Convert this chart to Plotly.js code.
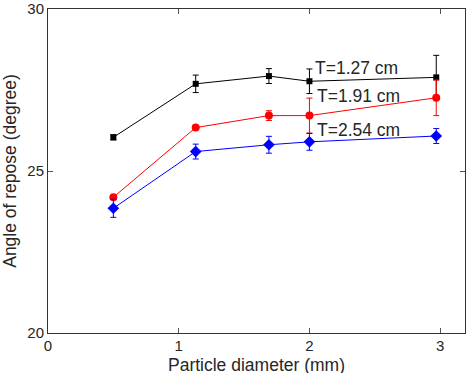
<!DOCTYPE html>
<html><head><meta charset="utf-8">
<script src="https://cdn.plot.ly/plotly-3.0.1.min.js"></script>
<style>html,body{margin:0;padding:0;background:#fff}#c{width:467px;height:373px}</style>
</head><body><div id="c"></div>
<script>
const diameter = [0.5, 1.13, 1.69, 2.0, 2.97];
const angleT127 = [26.04, 27.69, 27.93, 27.77, 27.89];
const errT127 = [0.08, 0.27, 0.23, 0.38, 0.68];
const angleT191 = [24.19, 26.34, 26.71, 26.71, 27.26];
const errT191 = [0.05, 0.05, 0.15, 0.54, 0.55];
const angleT254 = [23.85, 25.60, 25.81, 25.90, 26.08];
const errT254 = [0.28, 0.23, 0.26, 0.26, 0.23];
const seriesLabels = ['T=1.27 cm', 'T=1.91 cm', 'T=2.54 cm'];
const xTitle = 'Particle diameter (mm)';
const yTitle = 'Angle of repose (degree)';
const xTicks = [0, 1, 2, 3];
const yTicks = [20, 25, 30];

function tr(y, e, color, symbol, size) {
  return {x: diameter, y: y, type: 'scatter', mode: 'lines+markers',
    line: {color: color, width: 1}, marker: {color: color, symbol: symbol, size: size},
    error_y: {type: 'data', array: e, visible: true, color: color, thickness: 1, width: 3},
    showlegend: false};
}
const data = [
  tr(angleT127, errT127, '#000000', 'square', 6),
  tr(angleT191, errT191, '#ff0000', 'circle', 8),
  tr(angleT254, errT254, '#0000ff', 'diamond', 9)
];
const fam = 'Liberation Sans, Arial, sans-serif';
const tickFont = {family: fam, size: 15, color: '#262626'};
const titleFont = {family: fam, size: 17.5, color: '#262626'};
const layout = {
  width: 467, height: 373,
  margin: {l: 48, r: 2, t: 9, b: 40},
  paper_bgcolor: '#fff', plot_bgcolor: '#fff',
  font: tickFont,
  xaxis: {range: [0, 3.19], tickvals: xTicks, ticktext: xTicks.map(String),
    ticks: 'inside', ticklen: 5, tickcolor: '#555', showline: true, linecolor: '#333', mirror: 'ticks',
    showgrid: false, zeroline: false, tickfont: tickFont, ticklabelstandoff: -1},
  yaxis: {range: [20, 30], tickvals: yTicks, ticks: 'inside', ticklen: 5, tickcolor: '#555',
    showline: true, linecolor: '#333', mirror: 'ticks', showgrid: false, zeroline: false, tickfont: tickFont,
    title: {text: yTitle, font: titleFont, standoff: 6}},
  annotations: [
    {x: 2.03, y: 28.18, text: seriesLabels[0]},
    {x: 2.045, y: 27.31, text: seriesLabels[1]},
    {x: 2.045, y: 26.28, text: seriesLabels[2]}
  ].map(a => Object.assign(a, {xref: 'x', yref: 'y', xanchor: 'left', yanchor: 'middle', showarrow: false,
    font: {family: fam, size: 17.5, color: '#262626'}})).concat([
    {x: 0.5, y: -0.1, xref: 'paper', yref: 'paper', xanchor: 'center', yanchor: 'middle',
     showarrow: false, text: xTitle, font: titleFont, borderpad: 0}
  ])
};
Plotly.newPlot('c', data, layout, {displayModeBar: false, staticPlot: true});
</script></body></html>
